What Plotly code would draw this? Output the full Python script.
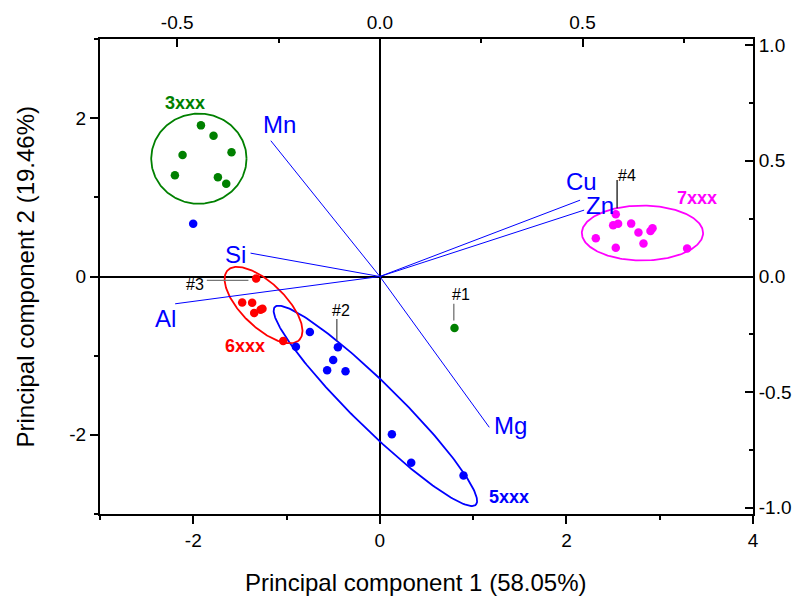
import numpy as np
import plotly.graph_objects as go

# ---------------- data ----------------
# PCA scores (PC1, PC2)
g3_x = [-1.918, -1.783, -2.115, -1.590, -2.197, -1.736, -1.647]
g3_y = [1.909, 1.778, 1.535, 1.569, 1.279, 1.253, 1.173]
g3_out_x = [0.80]          # sample #1
g3_out_y = [-0.651]

g5_x = [-2.001, -0.900, -0.750, -0.450, -0.500, -0.565, -0.368, 0.129, 0.336, 0.897]
g5_y = [0.665, -0.886, -0.701, -0.895, -1.055, -1.185, -1.198, -1.992, -2.353, -2.513]

g6_x = [-1.326, -1.476, -1.369, -1.347, -1.279, -1.258, -1.036]
g6_y = [-0.025, -0.328, -0.332, -0.462, -0.420, -0.407, -0.815]

g7_x = [2.529, 2.501, 2.554, 2.694, 2.772, 2.901, 2.923, 2.315, 2.529, 2.826, 3.294]
g7_y = [0.787, 0.648, 0.665, 0.668, 0.555, 0.576, 0.610, 0.484, 0.362, 0.416, 0.353]

# loadings (top / right axes)
load_names = ["Mn", "Si", "Al", "Mg", "Cu", "Zn"]
load_x = [-0.269, -0.319, -0.505, 0.270, 0.494, 0.504]
load_y = [0.587, 0.101, -0.118, -0.652, 0.330, 0.287]

# group ellipses: centre, first half-axis vector, second half-axis vector
ell_3xxx = [-1.940, 1.488, 0.511, 0.0, 0.0, 0.570]
ell_5xxx = [-0.048, -1.634, 1.077, -1.249, 0.171, 0.204]
ell_6xxx = [-1.247, -0.361, 0.384, -0.440, 0.164, 0.199]
ell_7xxx = [2.815, 0.549, 0.650, 0.0, 0.0, 0.347]

# tick labels
x_ticks = [-2, 0, 2, 4]
x_ticktext = ["-2", "0", "2", "4"]
y_ticks = [-2, 0, 2]
y_ticktext = ["-2", "0", "2"]
x2_ticks = [-0.5, 0.0, 0.5]
x2_ticktext = ["-0.5", "0.0", "0.5"]
y2_ticks = [-1.0, -0.5, 0.0, 0.5, 1.0]
y2_ticktext = ["-1.0", "-0.5", "0.0", "0.5", "1.0"]

# ---------------- figure ----------------
FONT = "Liberation Sans, Arial, sans-serif"
GREEN, BLUE, RED, MAG = "#008000", "#0000FF", "#FF0000", "#FF00FF"


def ellipse(p, n=240):
    t = np.linspace(0, 2 * np.pi, n)
    cx, cy, ax, ay, bx, by = p
    return cx + ax * np.cos(t) + bx * np.sin(t), cy + ay * np.cos(t) + by * np.sin(t)


fig = go.Figure()

# loading vectors
lx, ly = [], []
for a, b in zip(load_x, load_y):
    lx += [0, a, None]
    ly += [0, b, None]
fig.add_trace(go.Scatter(x=lx, y=ly, mode="lines", xaxis="x2", yaxis="y2",
                         line=dict(color=BLUE, width=1), hoverinfo="skip",
                         showlegend=False))

# ellipses
for p, c in [(ell_3xxx, GREEN), (ell_5xxx, BLUE), (ell_6xxx, RED), (ell_7xxx, MAG)]:
    ex, ey = ellipse(p)
    fig.add_trace(go.Scatter(x=ex, y=ey, mode="lines", line=dict(color=c, width=1.8),
                             hoverinfo="skip", showlegend=False))

# leader lines for sample labels
leaders = [([0.793, 0.793], [-0.344, -0.555], "#666666"),
           ([-0.461, -0.461], [-0.537, -0.807], "#444444"),
           ([-1.855, -1.409], [-0.050, -0.050], "#777777"),
           ([2.543, 2.543], [1.219, 0.863], "#000000")]
for xx, yy, c in leaders:
    fig.add_trace(go.Scatter(x=xx, y=yy, mode="lines", line=dict(color=c, width=1.2),
                             hoverinfo="skip", showlegend=False))

# scores
for xs, ys, c, nm in [(g3_x, g3_y, GREEN, "3xxx"), (g3_out_x, g3_out_y, GREEN, "3xxx"),
                      (g5_x, g5_y, BLUE, "5xxx"), (g6_x, g6_y, RED, "6xxx"),
                      (g7_x, g7_y, MAG, "7xxx")]:
    fig.add_trace(go.Scatter(x=xs, y=ys, mode="markers", name=nm,
                             marker=dict(color=c, size=8.5, line=dict(width=0)),
                             showlegend=False))

ann = []
# loading labels
load_lab_pos = {"Mn": (-1.079, 1.926), "Si": (-1.543, 0.282), "Al": (-2.294, -0.525),
                "Mg": (1.404, -1.879), "Cu": (2.162, 1.203), "Zn": (2.358, 0.895)}
for nm in load_names:
    px, py = load_lab_pos[nm]
    ann.append(dict(x=px, y=py, xref="x", yref="y", text=nm, showarrow=False,
                    font=dict(family=FONT, size=24, color=BLUE)))
# group labels
for txt, px, py, c in [("3xxx", -2.093, 2.187, GREEN), ("7xxx", 3.401, 0.989, MAG),
                       ("6xxx", -1.447, -0.883, RED), ("5xxx", 1.388, -2.791, BLUE)]:
    ann.append(dict(x=px, y=py, xref="x", yref="y", text="<b>%s</b>" % txt, showarrow=False,
                    font=dict(family=FONT, size=18, color=c)))
# sample labels
for txt, px, py in [("#1", 0.868, -0.222), ("#2", -0.421, -0.429),
                    ("#3", -1.980, -0.105), ("#4", 2.647, 1.279)]:
    ann.append(dict(x=px, y=py, xref="x", yref="y", text=txt, showarrow=False,
                    font=dict(family=FONT, size=16, color="black")))
# axis titles
ann.append(dict(x=0.39, y=0, xref="x", yref="paper", yshift=-68, yanchor="middle",
                text="Principal component 1 (58.05%)", showarrow=False,
                font=dict(family=FONT, size=24, color="black")))
ann.append(dict(x=0, y=0, xref="paper", yref="y", xshift=-75, xanchor="center",
                yanchor="middle", textangle=-90,
                text="Principal component 2 (19.46%)", showarrow=False,
                font=dict(family=FONT, size=24, color="black")))

axis_common = dict(showgrid=False, showline=True, linecolor="black", linewidth=2,
                   tickcolor="black", tickwidth=1.5, ticklen=8,
                   tickfont=dict(family=FONT, size=19, color="black"))

fig.update_layout(
    width=803, height=596,
    margin=dict(l=100, r=50, t=39, b=82),
    paper_bgcolor="white", plot_bgcolor="white",
    showlegend=False,
    annotations=ann,
    xaxis=dict(range=[-3, 4], tickvals=x_ticks, ticktext=x_ticktext, ticks="outside",
               zeroline=True, zerolinecolor="black", zerolinewidth=1.6,
               minor=dict(dtick=1, tick0=0, ticks="outside", ticklen=4, tickcolor="black",
                          tickwidth=1.5),
               **axis_common),
    yaxis=dict(range=[-3, 3], tickvals=y_ticks, ticktext=y_ticktext, ticks="outside",
               zeroline=True, zerolinecolor="black", zerolinewidth=1.6,
               minor=dict(dtick=1, tick0=0, ticks="outside", ticklen=4, tickcolor="black",
                          tickwidth=1.5),
               **axis_common),
    xaxis2=dict(range=[-0.6904, 0.9206], overlaying="x", side="top", anchor="y",
                tickvals=x2_ticks, ticktext=x2_ticktext, ticks="inside", zeroline=False,
                minor=dict(dtick=0.25, tick0=0, ticks="inside", ticklen=4, tickcolor="black",
                           tickwidth=1.5),
                **axis_common),
    yaxis2=dict(range=[-1.0267, 1.0267], overlaying="y", side="right", anchor="x",
                tickvals=y2_ticks, ticktext=y2_ticktext, ticks="inside", zeroline=False,
                minor=dict(dtick=0.25, tick0=0, ticks="inside", ticklen=4, tickcolor="black",
                           tickwidth=1.5),
                **axis_common),
)

fig.write_html("out.html", config={"displayModeBar": False},
               post_script="document.body.style.margin='0px';")
